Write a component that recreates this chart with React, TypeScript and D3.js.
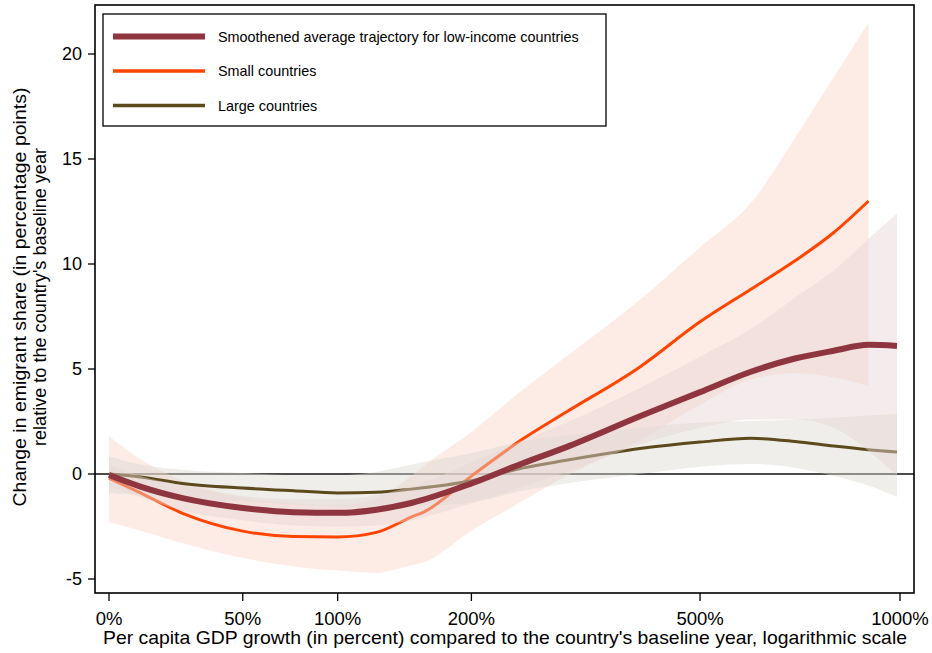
import React from "react";
import * as d3 from "d3";

// ---- data (growth in percent vs. change in emigrant share, pp) ----
const growthMain = [0, 10, 25, 50, 75, 100, 125, 150, 200, 250, 300, 400, 500, 600, 700, 800, 900, 990];
const mainLine = [-0.05, -0.6, -1.15, -1.62, -1.82, -1.85, -1.7, -1.38, -0.45, 0.5, 1.28, 2.75, 3.9, 4.87, 5.5, 5.87, 6.15, 6.1];
const mainUpper = [0.45, -0.1, -0.55, -1.05, -1.2, -1.2, -1.0, -0.6, 0.55, 1.6, 2.45, 4.1, 5.6, 6.9, 8.4, 9.7, 11.2, 12.4];
const mainLower = [-0.55, -1.1, -1.75, -2.2, -2.45, -2.5, -2.45, -2.2, -1.4, -0.6, 0.1, 1.4, 2.2, 2.6, 2.6, 2.2, 1.1, -0.05];

const growthSmall = [0, 10, 25, 50, 75, 100, 125, 150, 160, 200, 250, 300, 400, 500, 600, 700, 800, 900];
const smallLine = [-0.2, -0.9, -1.87, -2.72, -2.98, -3.0, -2.78, -2.05, -1.8, -0.1, 1.65, 2.95, 5.1, 7.25, 8.8, 10.15, 11.5, 13.0];
const smallUpper = [1.8, 0.7, -0.3, -1.1, -1.4, -1.5, -1.15, -0.1, 0.4, 2.0, 4.0, 5.6, 8.3, 10.8, 12.9, 16.0, 18.9, 21.5];
const smallLower = [-2.3, -2.7, -3.3, -4.0, -4.4, -4.6, -4.7, -4.35, -4.2, -2.7, -1.3, -0.1, 1.6, 3.3, 4.5, 4.8, 4.6, 4.2];

const growthLarge = growthMain;
const largeLine = [0.0, -0.14, -0.45, -0.67, -0.8, -0.9, -0.87, -0.72, -0.32, 0.28, 0.65, 1.21, 1.52, 1.7, 1.55, 1.33, 1.16, 1.05];
const largeUpper = [0.85, 0.45, 0.2, 0.05, -0.05, -0.05, 0.1, 0.45, 1.0, 1.55, 1.85, 2.2, 2.45, 2.52, 2.6, 2.68, 2.78, 2.86];
const largeLower = [-0.9, -1.0, -1.15, -1.3, -1.45, -1.55, -1.6, -1.55, -1.35, -0.8, -0.45, 0.0, 0.35, 0.48, 0.3, -0.1, -0.55, -1.1];

const xTicks = [0, 50, 100, 200, 500, 1000];
const xTickLabels = ["0%", "50%", "100%", "200%", "500%", "1000%"];
const yTicks = [-5, 0, 5, 10, 15, 20];

const legendLabels = [
  "Smoothened average trajectory for low-income countries",
  "Small countries",
  "Large countries",
];

const C_MAIN = "#8f3540";
const C_SMALL = "#ff4500";
const C_LARGE = "#5c4a1c";

export default function App() {
  const W = 932, H = 653;
  const frame = { left: 95, right: 914, top: 5, bottom: 593 };
  const x = d3.scaleLog().domain([1, 11]).range([109, 900]);
  const y = d3.scaleLinear().domain([-5, 20]).range([579, 54]);
  const gx = (g: number) => x(1 + g / 100);

  type P = { g: number; v: number; lo?: number; hi?: number };
  const mk = (gs: number[], v: number[], lo: number[], hi: number[]): P[] =>
    gs.map((g, i) => ({ g, v: v[i], lo: lo[i], hi: hi[i] }));
  const main = mk(growthMain, mainLine, mainLower, mainUpper);
  const small = mk(growthSmall, smallLine, smallLower, smallUpper);
  const large = mk(growthLarge, largeLine, largeLower, largeUpper);

  const line = d3
    .line<P>()
    .x((d) => gx(d.g))
    .y((d) => y(d.v))
    .curve(d3.curveMonotoneX);
  const area = d3
    .area<P>()
    .x((d) => gx(d.g))
    .y0((d) => y(d.lo as number))
    .y1((d) => y(d.hi as number))
    .curve(d3.curveMonotoneX);

  const font = "'Liberation Sans', Arial, Helvetica, sans-serif";

  return (
    <svg width={W} height={H} style={{ position: "absolute", left: 0, top: 0, background: "#fff" }} fontFamily={font}>
      <rect x={0} y={0} width={W} height={H} fill="#fff" />
      {/* zero line */}
      <line x1={frame.left} x2={frame.right} y1={y(0)} y2={y(0)} stroke="#111" strokeWidth={1.6} />
      {/* bands and lines */}
      <path d={area(small) || ""} fill="#fbd5c5" fillOpacity={0.45} />
      <path d={area(large) || ""} fill="#dbd9d0" fillOpacity={0.45} />
      <path d={line(small) || ""} fill="none" stroke={C_SMALL} strokeWidth={3} />
      <path d={line(large) || ""} fill="none" stroke={C_LARGE} strokeWidth={3} />
      <path d={area(main) || ""} fill="#e7d5d5" fillOpacity={0.45} />
      <path d={line(main) || ""} fill="none" stroke={C_MAIN} strokeWidth={6} />

      {/* frame */}
      <rect x={frame.left} y={frame.top} width={frame.right - frame.left} height={frame.bottom - frame.top} fill="none" stroke="#000" strokeWidth={1.6} />

      {/* y axis ticks */}
      {yTicks.map((t) => (
        <g key={"y" + t}>
          <line x1={frame.left - 7} x2={frame.left} y1={y(t)} y2={y(t)} stroke="#000" strokeWidth={1.3} />
          <text x={82} y={y(t)} dy="0.35em" textAnchor="end" fontSize={18} fill="#000">
            {t}
          </text>
        </g>
      ))}
      {/* x axis ticks */}
      {xTicks.map((t, i) => (
        <g key={"x" + t}>
          <line x1={gx(t)} x2={gx(t)} y1={frame.bottom} y2={frame.bottom + 8} stroke="#000" strokeWidth={1.3} />
          <text x={gx(t)} y={625} textAnchor="middle" fontSize={18.5} fill="#000">
            {xTickLabels[i]}
          </text>
        </g>
      ))}

      {/* axis titles */}
      <text x={505} y={644} textAnchor="middle" fontSize={19} fill="#000" textLength={804} lengthAdjust="spacingAndGlyphs">
        Per capita GDP growth (in percent) compared to the country's baseline year, logarithmic scale
      </text>
      <g transform={`translate(26, 297) rotate(-90)`}>
        <text x={0} y={0} textAnchor="middle" fontSize={18.5} fill="#000" textLength={419} lengthAdjust="spacingAndGlyphs">
          Change in emigrant share (in percentage points)
        </text>
        <text x={0} y={20} textAnchor="middle" fontSize={18.5} fill="#000" textLength={298} lengthAdjust="spacingAndGlyphs">
          relative to the country's baseline year
        </text>
      </g>

      {/* legend */}
      <rect x={103} y={14} width={503} height={112} fill="#fff" stroke="#000" strokeWidth={1.3} />
      {[C_MAIN, C_SMALL, C_LARGE].map((c, i) => (
        <g key={"lg" + i}>
          <line x1={113} x2={205} y1={36.5 + i * 34.5} y2={36.5 + i * 34.5} stroke={c} strokeWidth={i === 0 ? 6 : 3.5} />
          <text x={218} y={36.5 + i * 34.5} dy="0.35em" fontSize={14.4} fill="#000">
            {legendLabels[i]}
          </text>
        </g>
      ))}
    </svg>
  );
}
